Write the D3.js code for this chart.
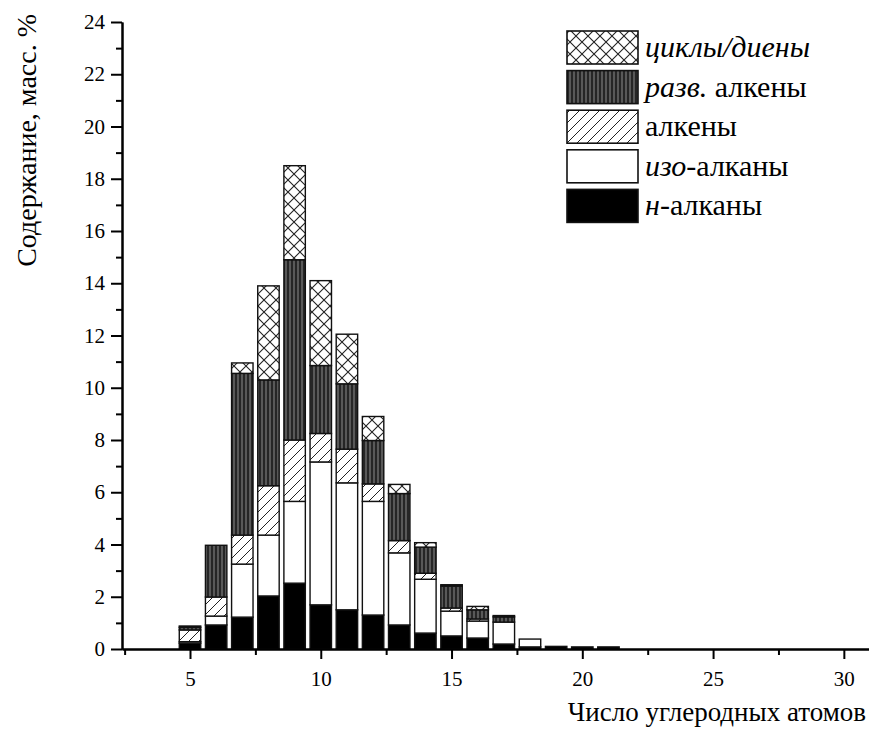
<!DOCTYPE html>
<html>
<head>
<meta charset="utf-8">
<script src="https://cdn.jsdelivr.net/npm/d3@7"></script>
<style>
  body { margin: 0; background: #fff; }
  svg { display: block; }
  text { font-family: "Liberation Serif", "DejaVu Serif", "Noto Serif", Times, serif; fill: #000; }
</style>
</head>
<body>
<div id="chart"></div>
<script>
// carbon numbers
const carbons = [5, 6, 7, 8, 9, 10, 11, 12, 13, 14, 15, 16, 17, 18, 19, 20, 21];

// series values, % mass
const nAlkanes   = [0.22, 0.92, 1.22, 2.03, 2.52, 1.69, 1.50, 1.30, 0.92, 0.61, 0.50, 0.42, 0.19, 0.08, 0.10, 0.08, 0.08];
const isoAlkanes = [0.06, 0.34, 2.03, 2.33, 3.13, 5.47, 4.86, 4.35, 2.76, 2.06, 0.95, 0.65, 0.84, 0.30, 0, 0, 0];
const alkenes    = [0.45, 0.73, 1.11, 1.89, 2.35, 1.09, 1.29, 0.67, 0.47, 0.23, 0.12, 0.08, 0, 0, 0, 0, 0];
const brAlkenes  = [0.10, 1.98, 6.19, 4.05, 6.90, 2.60, 2.50, 1.66, 1.80, 1.00, 0.84, 0.35, 0.20, 0, 0, 0, 0];
const cycles     = [0.05, 0, 0.40, 3.60, 3.60, 3.25, 1.90, 0.92, 0.35, 0.17, 0.05, 0.13, 0.05, 0, 0, 0, 0];

const keys = ["n", "iso", "alk", "br", "cyc"];
const legendKeys = ["cyc", "br", "alk", "iso", "n"];

// ticks
const xMajor = [5, 10, 15, 20, 25, 30];
const xMinor = [2.5, 7.5, 12.5, 17.5, 22.5, 27.5];
const yMajor = [0, 2, 4, 6, 8, 10, 12, 14, 16, 18, 20, 22, 24];
const yMinor = [1, 3, 5, 7, 9, 11, 13, 15, 17, 19, 21, 23];

const W = 869, H = 745;
const serif = "'Liberation Serif', 'DejaVu Serif', 'Noto Serif', Times, serif";

const data = carbons.map((c, i) => ({
  c: c, n: nAlkanes[i], iso: isoAlkanes[i], alk: alkenes[i], br: brAlkenes[i], cyc: cycles[i]
}));

const svg = d3.select("#chart")
  .append("svg")
  .attr("width", W)
  .attr("height", H);

// fill patterns
const defs = svg.append("defs");

const pCross = defs.append("pattern")
  .attr("id", "pcross")
  .attr("patternUnits", "userSpaceOnUse")
  .attr("width", 12).attr("height", 12);
pCross.append("rect").attr("width", 12).attr("height", 12).attr("fill", "#fff");
pCross.append("path").attr("d", "M0,0L12,12M12,0L0,12")
  .attr("stroke", "#222").attr("stroke-width", 1.1);

const pBr = defs.append("pattern")
  .attr("id", "pbr")
  .attr("patternUnits", "userSpaceOnUse")
  .attr("width", 4).attr("height", 4);
pBr.append("rect").attr("width", 4).attr("height", 4).attr("fill", "#262626");
pBr.append("path").attr("d", "M2,0L2,4")
  .attr("stroke", "#8c8c8c").attr("stroke-width", 1);

const pAlk = defs.append("pattern")
  .attr("id", "palk")
  .attr("patternUnits", "userSpaceOnUse")
  .attr("width", 10).attr("height", 10);
pAlk.append("rect").attr("width", 10).attr("height", 10).attr("fill", "#fff");
pAlk.append("path").attr("d", "M-1,11L11,-1M-3,3L3,-3M7,13L13,7")
  .attr("stroke", "#222").attr("stroke-width", 1);

const fills = { n: "#000", iso: "#fff", alk: "url(#palk)", br: "url(#pbr)", cyc: "url(#pcross)" };

// scales
const x = d3.scaleLinear().domain([2.4, 31]).range([122, 870]);
const y = d3.scaleLinear().domain([0, 24]).range([649, 22]);
const barW = x(0.82) - x(0);

// bars
const stacked = d3.stack().keys(keys)(data);

svg.append("g")
  .selectAll("g")
  .data(stacked)
  .enter()
  .append("g")
  .attr("fill", d => fills[d.key])
  .selectAll("rect")
  .data(d => d.filter(s => s[1] - s[0] > 0))
  .enter()
  .append("rect")
  .attr("x", d => x(d.data.c) - barW / 2)
  .attr("y", d => y(d[1]))
  .attr("width", barW)
  .attr("height", d => y(d[0]) - y(d[1]))
  .attr("stroke", "#111")
  .attr("stroke-width", 1.4);

// x axis
const gx = svg.append("g")
  .attr("transform", `translate(0,${y(0)})`)
  .call(d3.axisBottom(x).tickValues(xMajor).tickSize(10).tickPadding(12).tickSizeOuter(0));
gx.append("g")
  .call(d3.axisBottom(x).tickValues(xMinor).tickSize(6).tickFormat("").tickSizeOuter(0));

// y axis
const gy = svg.append("g")
  .attr("transform", `translate(${x.range()[0]},0)`)
  .call(d3.axisLeft(y).tickValues(yMajor).tickSize(11).tickPadding(6).tickSizeOuter(0));
gy.append("g")
  .call(d3.axisLeft(y).tickValues(yMinor).tickSize(6).tickFormat("").tickSizeOuter(0));

svg.selectAll(".domain, .tick line").attr("stroke", "#000").attr("stroke-width", 2);
gx.attr("font-family", serif).attr("font-size", 21);
gy.attr("font-family", serif).attr("font-size", 21);

// axis titles
svg.append("text")
  .attr("transform", "translate(36,14) rotate(-90)")
  .attr("text-anchor", "end")
  .style("font-size", "28px")
  .text("Содержание, масс. %");

svg.append("text")
  .attr("x", 866)
  .attr("y", 721)
  .attr("text-anchor", "end")
  .style("font-size", "27px")
  .text("Число углеродных атомов");

// legend
const legend = svg.append("g");
const labels = {
  cyc: [["циклы/диены", true]],
  br: [["разв.", true], [" алкены", false]],
  alk: [["алкены", false]],
  iso: [["изо", true], ["-алканы", false]],
  n: [["н", true], ["-алканы", false]]
};

legendKeys.forEach((k, i) => {
  const top = 31 + i * 39.6;
  legend.append("rect")
    .attr("x", 567).attr("y", top)
    .attr("width", 71).attr("height", 33)
    .attr("fill", fills[k])
    .attr("stroke", "#111")
    .attr("stroke-width", 1.6);
  const t = legend.append("text")
    .attr("x", 645).attr("y", top + 26)
    .style("font-size", "30px");
  labels[k].forEach(p => {
    t.append("tspan")
      .style("font-style", p[1] ? "italic" : "normal")
      .text(p[0]);
  });
});
</script>
</body>
</html>
